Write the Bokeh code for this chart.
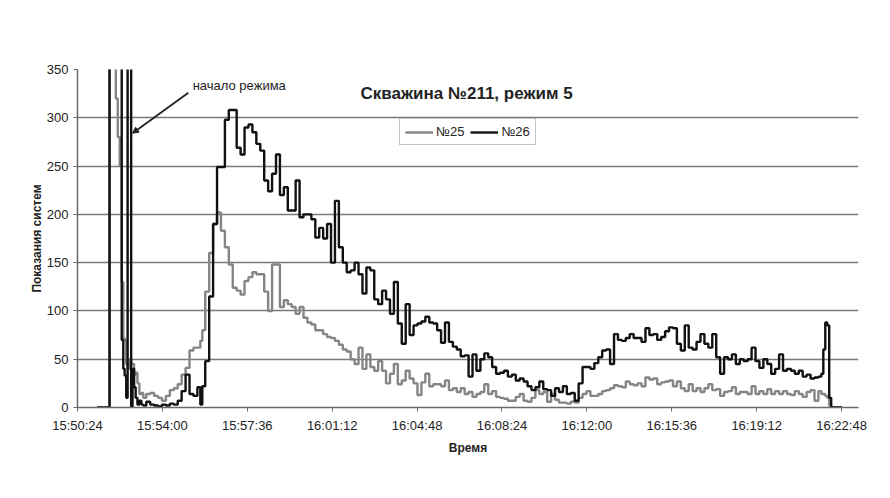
from bokeh.plotting import figure
from bokeh.models import (Range1d, FixedTicker, Legend, LegendItem, Label,
                          Arrow, NormalHead, ColumnDataSource)
from bokeh.embed import file_html
from bokeh.resources import INLINE

# seconds after 15:50:24
secs = (
    [50, 55, 60, 65, 70, 75, 80, 83, 90, 95, 100, 105, 110, 115, 118, 122,
     126, 129, 135, 138, 142, 146, 150, 155, 160, 165, 170]
    + [180, 190, 200, 210, 220, 230, 240, 250, 260, 270, 280, 290, 300, 310, 315]
    + [320, 330, 340, 350, 360, 370, 380, 390, 400, 410,
       420, 430, 440, 450, 460, 470, 480, 490, 500, 510,
       520, 530, 540, 550, 560, 570, 580, 590, 600, 610,
       620, 630, 640, 650, 660, 670, 680, 690, 700, 710,
       720, 730, 740, 750, 760, 770, 780, 790, 800, 810,
       820, 830, 840, 850, 860, 870, 880, 890, 900, 910,
       920, 930, 940, 950, 960, 970, 980, 990, 1000, 1010,
       1020, 1030, 1040, 1050, 1060, 1070, 1080, 1090, 1100, 1110,
       1120, 1130, 1140, 1150, 1160, 1170, 1180, 1190, 1200, 1210,
       1220, 1230, 1240, 1250, 1260, 1270, 1280, 1290, 1300, 1310,
       1320, 1330, 1340, 1350, 1360, 1370, 1380, 1390, 1400, 1410,
       1420, 1430, 1440, 1450, 1460, 1470, 1480, 1490, 1500, 1510,
       1520, 1530, 1540, 1550, 1560, 1570, 1580, 1590, 1600, 1610,
       1620, 1630, 1640, 1650, 1660, 1670, 1680, 1690, 1700, 1710,
       1720, 1730, 1740, 1750, 1760, 1770, 1780, 1790, 1800, 1810,
       1820, 1830, 1840, 1850, 1860, 1870, 1880, 1890]
    + [1895, 1900, 1905, 1910, 1915, 1920, 1930, 1945]
)

n25 = (
    [0, 0, 0, 0, 0, 0, 0, 420, 400, 360, 320, 280, 250, 130, 72, 70,
     45, 40, 50, 45, 45, 34, 36, 25, 14, 15, 10]
    + [14, 15, 12, 10, 7, 12, 18, 20, 24, 34, 41, 59, 62, 62, 69]
    + [80, 120, 160, 190, 202, 183, 166, 148, 124, 121,
       117, 131, 135, 140, 138, 138, 120, 100, 148, 148,
       104, 111, 107, 104, 97, 104, 93, 88, 86, 80,
       80, 76, 73, 72, 69, 65, 60, 58, 50, 45,
       62, 40, 55, 42, 38, 48, 38, 25, 35, 45,
       24, 28, 38, 30, 25, 13, 26, 35, 22, 24,
       24, 22, 28, 18, 20, 16, 20, 14, 16, 11,
       14, 16, 24, 14, 17, 11, 10, 9, 7, 7,
       11, 14, 7, 6, 10, 18, 14, 16, 6, 14,
       8, 5, 5, 4, 6, 5, 10, 14, 17, 12,
       12, 14, 17, 18, 20, 23, 22, 21, 27, 24,
       23, 25, 22, 31, 29, 30, 24, 26, 27, 28,
       22, 27, 20, 17, 24, 17, 20, 16, 20, 24,
       18, 19, 12, 16, 17, 21, 14, 16, 16, 14,
       22, 14, 17, 14, 19, 14, 17, 14, 17, 14,
       13, 17, 14, 11, 16, 18, 7, 17]
    + [14, 14, 12, 10, 2, 0, 0, 0]
)

n26 = (
    [0, 0, 0, 0, 0, 0, 0, 420, 420, 420, 420, 420, 420, 70, 40, 33,
     10, 420, 420, 0, 40, 21, 10, 3, 7, 3, 2]
    + [6, 3, 2, 1, 3, 2, 4, 3, 7, 17, 34, 14, 12, 21, 3]
    + [22, 48, 115, 190, 249, 249, 298, 308, 308, 269,
       262, 290, 293, 285, 273, 266, 235, 224, 242, 262,
       220, 228, 204, 204, 235, 197, 200, 200, 195, 176,
       186, 175, 190, 150, 214, 166, 150, 140, 142, 150,
       138, 118, 145, 142, 112, 107, 121, 112, 97, 130,
       87, 66, 107, 75, 85, 87, 89, 94, 88, 87,
       80, 67, 88, 68, 63, 60, 53, 54, 32, 55,
       38, 50, 56, 52, 42, 35, 36, 38, 32, 34,
       28, 30, 27, 22, 18, 21, 27, 19, 18, 12,
       20, 16, 22, 14, 15, 7, 25, 42, 42, 40,
       46, 52, 59, 60, 45, 76, 70, 69, 72, 76,
       72, 72, 68, 82, 75, 76, 70, 73, 79, 83,
       82, 66, 59, 85, 62, 60, 68, 76, 66, 62,
       76, 52, 35, 52, 50, 55, 45, 50, 48, 50,
       62, 48, 41, 50, 45, 35, 40, 55, 38, 40,
       38, 35, 38, 32, 34, 30, 31, 32]
    + [35, 60, 88, 85, 10, 0, 0, 0]
)

assert len(secs) == len(n25) == len(n26)

tick_secs = [0, 216, 432, 648, 864, 1080, 1296, 1512, 1728, 1944]
tick_labels = ["15:50:24", "15:54:00", "15:57:36", "16:01:12", "16:04:48",
               "16:08:24", "16:12:00", "16:15:36", "16:19:12", "16:22:48"]
y_ticks = [0, 50, 100, 150, 200, 250, 300, 350]

title_text = "Скважина №211, режим 5"
note_text = "начало режима"
x_title = "Время"
y_title = "Показания систем"

FONT = "Liberation Sans"
TXT = "#222222"

src = ColumnDataSource(dict(t=secs, g=n25, b=n26))

p = figure(width=882, height=490, x_range=Range1d(0, 1987), y_range=Range1d(0, 350),
           output_backend="svg", toolbar_location=None,
           min_border_left=77, min_border_right=24, min_border_top=69,
           min_border_bottom=83)
p.background_fill_color = "white"
p.border_fill_color = "white"
p.outline_line_color = None

p.xgrid.visible = False
p.ygrid.ticker = FixedTicker(ticks=y_ticks)
p.ygrid.grid_line_color = "#7a7a7a"
p.ygrid.grid_line_width = 1.6

for ax in (p.xaxis[0], p.yaxis[0]):
    ax.axis_line_color = "#6a6a6a"
    ax.axis_line_width = 1.5
    ax.major_tick_line_color = "#6a6a6a"
    ax.major_tick_out = 4
    ax.major_tick_in = 0
    ax.minor_tick_line_color = None
    ax.major_label_text_font = FONT
    ax.major_label_text_font_size = "13px"
    ax.major_label_text_color = TXT
    ax.axis_label_text_font = FONT
    ax.axis_label_text_font_size = "12px"
    ax.axis_label_text_font_style = "bold"
    ax.axis_label_text_color = TXT

p.xaxis.ticker = FixedTicker(ticks=tick_secs)
p.xaxis.major_label_overrides = {t: s for t, s in zip(tick_secs, tick_labels)}
p.xaxis.major_label_standoff = 6
p.xaxis.axis_label = x_title
p.xaxis.axis_label_standoff = 5

p.yaxis.ticker = FixedTicker(ticks=y_ticks)
p.yaxis.major_label_standoff = 5
p.yaxis.axis_label = y_title
p.yaxis.axis_label_standoff = 0

rg = p.step("t", "g", source=src, mode="center", line_color="#858585", line_width=2.4)
rb = p.step("t", "b", source=src, mode="center", line_color="#111111", line_width=2.4)

legend = Legend(items=[LegendItem(label="№25", renderers=[rg]),
                       LegendItem(label="№26", renderers=[rb])],
                orientation="horizontal", location=(322, 262),
                label_text_font=FONT, label_text_font_size="13px",
                label_text_color=TXT, glyph_width=28, glyph_height=12,
                label_standoff=3, spacing=6, padding=5, margin=0,
                border_line_color="#8a8a8a", border_line_width=1.2,
                background_fill_color="white", background_fill_alpha=1)
p.add_layout(legend)

p.add_layout(Label(x=990, y=325, text=title_text, text_align="center",
                   text_baseline="middle", text_font=FONT, text_font_size="17px",
                   text_font_style="bold", text_color=TXT))

p.add_layout(Label(x=293, y=333, text=note_text, text_align="left",
                   text_baseline="middle", text_font=FONT, text_font_size="13px",
                   text_color=TXT))
p.add_layout(Arrow(end=NormalHead(size=6, fill_color=TXT, line_color=TXT),
                   x_start=282, y_start=326, x_end=140, y_end=284,
                   line_color=TXT, line_width=1.8))

open("out.html", "w").write(file_html(p, INLINE))
